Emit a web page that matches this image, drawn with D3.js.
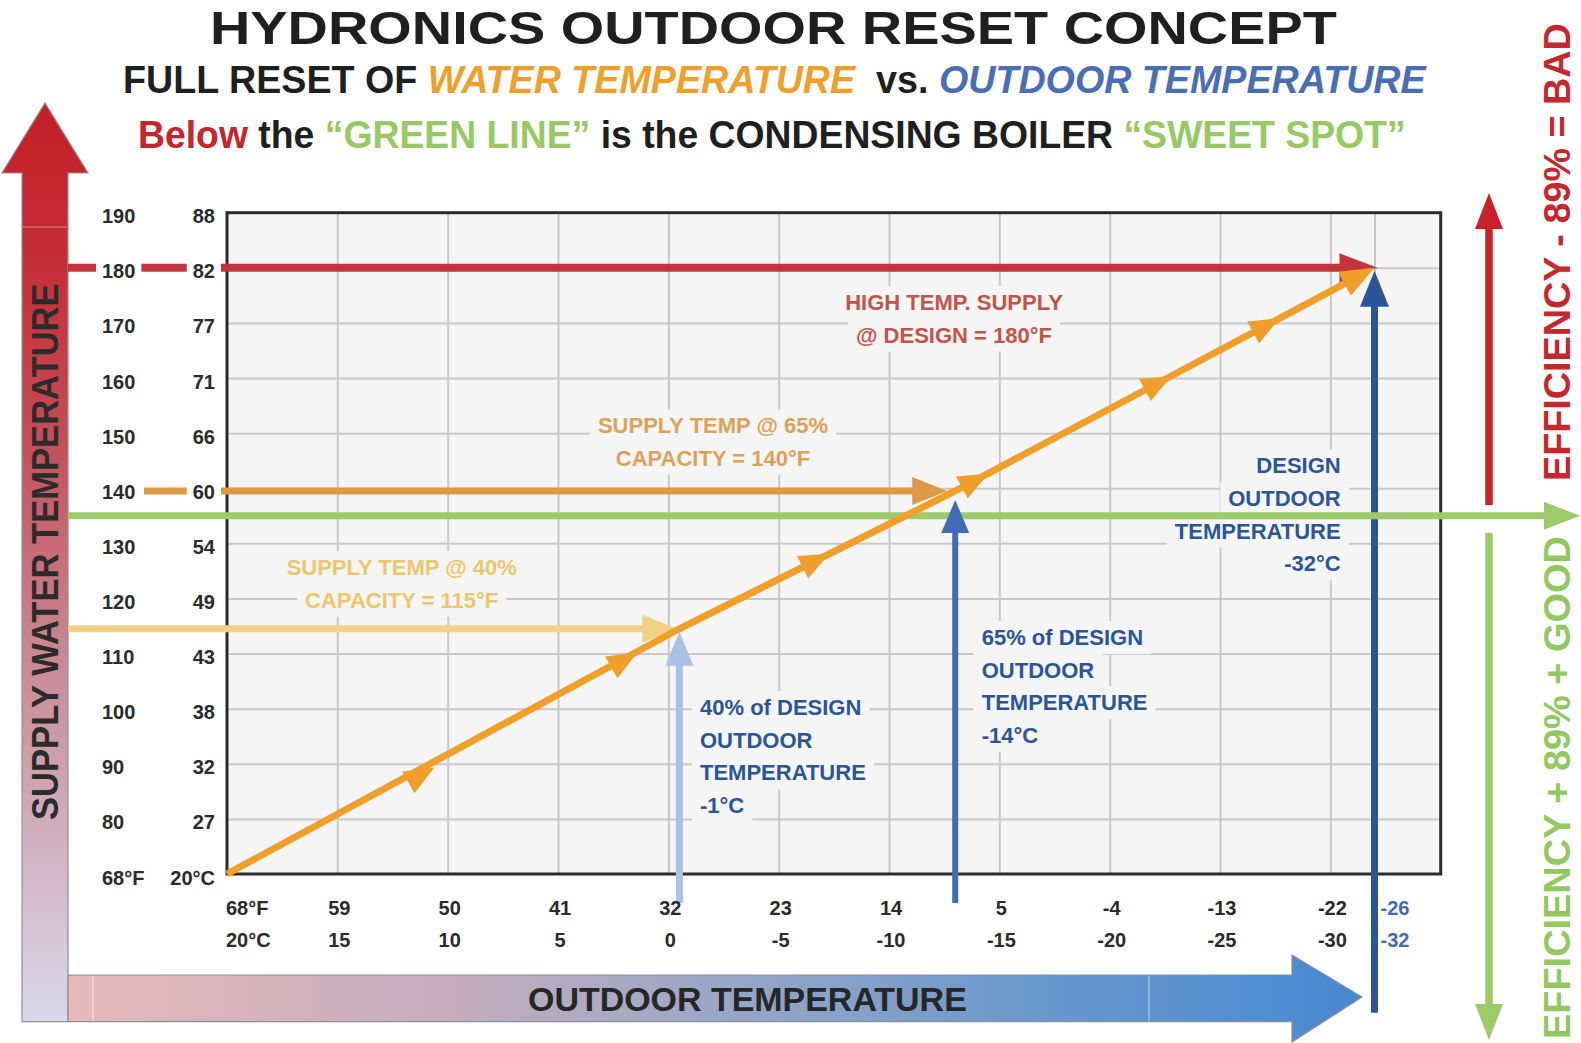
<!DOCTYPE html>
<html>
<head>
<meta charset="utf-8">
<script src="https://cdn.jsdelivr.net/npm/d3@7"></script>
<style>
html, body { margin: 0; padding: 0; background: #fff; }
svg { display: block; }
text { font-family: "Liberation Sans", Arial, Helvetica, sans-serif; font-weight: bold; white-space: pre; }
</style>
</head>
<body>
<svg id="chart" width="1581" height="1043"></svg>
<script>
// supply water temperature ticks: °F column and matching °C column
const supplyF = [68, 80, 90, 100, 110, 120, 130, 140, 150, 160, 170, 180, 190];
const supplyC = [20, 27, 32, 38, 43, 49, 54, 60, 66, 71, 77, 82, 88];
// outdoor temperature ticks
const outdoorC = [20, 15, 10, 5, 0, -5, -10, -15, -20, -25, -30];
const outdoorF = [68, 59, 50, 41, 32, 23, 14, 5, -4, -13, -22];
const designC = -32, designF = -26;

// reset curve: [outdoor °C, supply °F]
const resetCurve = [[20, 68], [-0.5, 114.5], [-13, 139.5], [-32, 180]];
// small flow arrows sitting on the reset curve (outdoor °C)
const curveMarks = [10.6, 1.4, -7.3, -14.5, -22.8, -27.7];

const highTempF = 180;
const cap65 = { outdoor: -13, supply: 139.5 };
const cap40 = { outdoor: -0.5, supply: 114.5 };
const condensingF = 135;

const svg = d3.select("#chart");
const plot = { left: 227, top: 212.7, right: 1440.7, bottom: 874 };
const barL = 22, barR = 68;            // left gradient arrow body
const fTextX = 102, cTextX = 215;      // y label columns

const x = d3.scaleLinear().domain([20, -35]).range([plot.left, plot.right]);
const yStep = (plot.bottom - plot.top) / (supplyF.length - 1);
const y = d3.scaleLinear().domain([68, 80, 190]).range([plot.bottom, plot.bottom - yStep, plot.top]);
const curveF = d3.scaleLinear().domain(resetCurve.map(d => d[0])).range(resetCurve.map(d => d[1]));

const C = {
    red: "#c4343b", orange: "#f09f2b", tan: "#dc9a47", yellow: "#f1d183",
    green: "#9dcb6b", lblue: "#a8c1e4", mblue: "#3f6cb4", dblue: "#2c5597",
    grid: "#c8c8c8", bg: "#f5f5f5", ink: "#2b2b2b"
};

// gradients
const defs = svg.append("defs");
const gv = defs.append("linearGradient").attr("id", "gv")
    .attr("gradientUnits", "userSpaceOnUse").attr("x1", 0).attr("y1", 103).attr("x2", 0).attr("y2", 1022);
[[0, "#c41f28"], [0.15, "#c42b33"], [0.35, "#c44a55"], [0.6, "#c98893"], [1, "#d9d9eb"]]
    .forEach(s => gv.append("stop").attr("offset", s[0]).attr("stop-color", s[1]));
const gh = defs.append("linearGradient").attr("id", "gh")
    .attr("gradientUnits", "userSpaceOnUse").attr("x1", 68).attr("y1", 0).attr("x2", 1362).attr("y2", 0);
[[0, "#e6b9bc"], [0.3, "#c4adbd"], [0.5, "#9ba7c6"], [0.75, "#6a98cc"], [1, "#4788d2"]]
    .forEach(s => gh.append("stop").attr("offset", s[0]).attr("stop-color", s[1]));

// big axis arrows
svg.append("path")
    .attr("d", `M${barL},1021.7L${barL},173L2,173L45,103L88,173L${barR},173L${barR},1021.7Z`)
    .attr("fill", "url(#gv)").attr("stroke", "#8f8f99").attr("stroke-width", 1.2);
svg.append("path")
    .attr("d", `M${barR},975L1292,975L1292,955L1362,997L1292,1042L1292,1021.7L${barR},1021.7Z`)
    .attr("fill", "url(#gh)").attr("stroke", "#8a8f99").attr("stroke-width", 1.2);
svg.append("line").attr("x1", barL + 1).attr("x2", barR - 1).attr("y1", 227).attr("y2", 227)
    .attr("stroke", "rgba(255,255,255,0.45)").attr("stroke-width", 1.2);
[93, 1149].forEach(v => svg.append("line").attr("x1", v).attr("x2", v).attr("y1", 976).attr("y2", 1021)
    .attr("stroke", "rgba(255,255,255,0.5)").attr("stroke-width", 1.2));

// plot background + grid
svg.append("rect").attr("x", plot.left).attr("y", plot.top)
    .attr("width", plot.right - plot.left).attr("height", plot.bottom - plot.top).attr("fill", C.bg);

const gridX = svg.append("g").attr("transform", `translate(0,${plot.bottom})`)
    .call(d3.axisBottom(x).tickValues(outdoorC.slice(1).concat([designC]))
        .tickSize(-(plot.bottom - plot.top)).tickFormat(""));
const gridY = svg.append("g").attr("transform", `translate(${plot.left},0)`)
    .call(d3.axisLeft(y).tickValues(supplyF.slice(1, -1))
        .tickSize(-(plot.right - plot.left)).tickFormat(""));
[gridX, gridY].forEach(g => {
    g.select(".domain").remove();
    g.selectAll("line").attr("stroke", C.grid).attr("stroke-width", 2);
});

const gKnock = svg.append("g");
svg.append("rect").attr("x", plot.left).attr("y", plot.top)
    .attr("width", plot.right - plot.left).attr("height", plot.bottom - plot.top)
    .attr("fill", "none").attr("stroke", C.ink).attr("stroke-width", 3);

const gLines = svg.append("g");

function arrow(g, x1, y1, x2, y2, o) {
    const dx = x2 - x1, dy = y2 - y1, L = Math.hypot(dx, dy), ux = dx / L, uy = dy / L;
    const head = o.head || 35, half = o.half || 14;
    const bx = x2 - ux * head, by = y2 - uy * head;
    g.append("line").attr("x1", x1).attr("y1", y1).attr("x2", bx + ux).attr("y2", by + uy)
        .attr("stroke", o.color).attr("stroke-width", o.width);
    g.append("path")
        .attr("d", `M${x2},${y2}L${bx - uy * half},${by + ux * half}L${bx + uy * half},${by - ux * half}Z`)
        .attr("fill", o.color);
}

const dX = x(designC), dY = y(highTempF);
// design outdoor temperature
arrow(gLines, dX, 1012.7, dX, dY + 3, { color: C.dblue, width: 7, head: 36, half: 14.5 });
// condensing "green line"
arrow(gLines, barR, y(condensingF), 1580, y(condensingF), { color: C.green, width: 7, head: 36, half: 14 });
// high temp supply
arrow(gLines, barR, dY, dX + 3, dY, { color: C.red, width: 8, head: 38, half: 14.5 });
// 65% capacity
arrow(gLines, 144, y(cap65.supply), x(cap65.outdoor) - 8, y(cap65.supply), { color: C.tan, width: 7, head: 35, half: 14 });
arrow(gLines, x(cap65.outdoor), 903, x(cap65.outdoor), y(cap65.supply) + 9, { color: C.mblue, width: 6, head: 33, half: 14 });
// 40% capacity
arrow(gLines, barR, y(cap40.supply), x(cap40.outdoor) - 2, y(cap40.supply), { color: C.yellow, width: 7, head: 35, half: 14 });
arrow(gLines, x(cap40.outdoor), 903, x(cap40.outdoor), y(cap40.supply) + 3, { color: C.lblue, width: 7, head: 34, half: 14 });

// reset curve
gLines.append("path").datum(resetCurve.slice(0, -1).concat([[designC + 1.2, curveF(designC + 1.2)]]))
    .attr("d", d3.line().x(d => x(d[0])).y(d => y(d[1])))
    .attr("fill", "none").attr("stroke", C.orange).attr("stroke-width", 7).attr("stroke-linecap", "butt");
function tri(c, len, half) {
    const tx = x(c), ty = y(curveF(c));
    const dx = x(c - 1) - x(c + 1), dy = y(curveF(c - 1)) - y(curveF(c + 1));
    const L = Math.hypot(dx, dy), ux = dx / L, uy = dy / L;
    const bx = tx - ux * len, by = ty - uy * len;
    return `M${tx},${ty}L${bx - uy * half},${by + ux * half}L${bx + uy * half},${by - ux * half}Z`;
}
gLines.selectAll(".mark").data(curveMarks).join("path").attr("class", "mark")
    .attr("d", c => tri(c, 30, 12.5)).attr("fill", C.orange);
gLines.append("path").attr("d", tri(designC, 34, 13.5)).attr("fill", C.orange);

// y tick labels (two columns) with white knockouts
const gYL = svg.append("g").attr("font-size", 20).attr("fill", C.ink);
supplyF.forEach((f, i) => {
    const yy = y(f) + 10.5;
    const tf = gYL.append("text").attr("x", fTextX).attr("y", yy).text(i === 0 ? "68°F" : f);
    const tc = gYL.append("text").attr("x", cTextX).attr("y", yy).attr("text-anchor", "end")
        .text(i === 0 ? supplyC[i] + "°C" : supplyC[i]);
    [tf, tc].forEach(t => {
        const b = t.node().getBBox();
        gYL.insert("rect", "text").attr("x", b.x - 6).attr("y", b.y + 1)
            .attr("width", b.width + 12).attr("height", b.height - 2).attr("fill", "#fff");
    });
});

// x tick labels
const gXL = svg.append("g").attr("font-size", 20).attr("fill", C.ink);
outdoorC.forEach((c, i) => {
    const first = i === 0;
    const xx = first ? x(c) - 1 : x(c) + 2;
    const anchor = first ? "start" : "middle";
    gXL.append("text").attr("x", xx).attr("y", 915).attr("text-anchor", anchor)
        .text(first ? outdoorF[i] + "°F" : outdoorF[i]);
    gXL.append("text").attr("x", xx).attr("y", 946.7).attr("text-anchor", anchor)
        .text(first ? c + "°C" : c);
});
gXL.append("text").attr("x", x(designC) + 6).attr("y", 915).attr("fill", C.mblue).text(designF);
gXL.append("text").attr("x", x(designC) + 6).attr("y", 946.7).attr("fill", C.mblue).text(designC);

// annotations inside the plot, each line knocks the grid out behind it
const notes = [
    { lines: ["HIGH TEMP. SUPPLY", "@ DESIGN = 180°F"], x: 954, y: 310, anchor: "middle", color: "#c5534a" },
    { lines: ["SUPPLY TEMP @ 65%", "CAPACITY = 140°F"], x: 713, y: 433.3, anchor: "middle", color: "#dca257" },
    { lines: ["SUPPLY TEMP @ 40%", "CAPACITY = 115°F"], x: 401.7, y: 575, anchor: "middle", color: "#ebc66b" },
    { lines: ["40% of DESIGN", "OUTDOOR", "TEMPERATURE", "-1°C"], x: 700, y: 715, anchor: "start", color: C.dblue },
    { lines: ["65% of DESIGN", "OUTDOOR", "TEMPERATURE", "-14°C"], x: 981.7, y: 645, anchor: "start", color: C.dblue },
    { lines: ["DESIGN", "OUTDOOR", "TEMPERATURE", "-32°C"], x: 1340.7, y: 473.3, anchor: "end", color: C.dblue }
];
const gNotes = svg.append("g").attr("font-size", 22);
notes.forEach(n => {
    n.lines.forEach((s, i) => {
        const t = gNotes.append("text").attr("x", n.x).attr("y", n.y + i * 32.6)
            .attr("text-anchor", n.anchor).attr("fill", n.color).text(s);
        const b = t.node().getBBox();
        gKnock.append("rect").attr("x", b.x - 8).attr("y", b.y - 4)
            .attr("width", b.width + 16).attr("height", b.height + 8).attr("fill", C.bg);
    });
});

// titles and rotated labels, stretched to the measured widths
function fitText(parts, size, x0, y0, width, rot) {
    const g = svg.append("g");
    const t = g.append("text").attr("font-size", size);
    parts.forEach(p => t.append("tspan").text(p.t).attr("fill", p.c || "#1f1f1f")
        .attr("font-style", p.i ? "italic" : null));
    const w = t.node().getComputedTextLength();
    g.attr("transform", `translate(${x0},${y0})` + (rot ? ` rotate(${rot})` : "") + ` scale(${width / w},1)`);
}
const orangeT = "#f09f2b", blueT = "#4a6db3", greenT = "#98c965", redT = "#c9232b";
fitText([{ t: "HYDRONICS OUTDOOR RESET CONCEPT" }], 47, 210, 43.5, 1127);
fitText([{ t: "FULL RESET OF " }, { t: "WATER TEMPERATURE", c: orangeT, i: 1 }, { t: "  vs. " },
    { t: "OUTDOOR TEMPERATURE", c: blueT, i: 1 }], 39, 123, 93, 1303);
fitText([{ t: "Below", c: redT }, { t: " the " }, { t: "\u201CGREEN LINE\u201D", c: greenT },
    { t: " is the CONDENSING BOILER " }, { t: "\u201CSWEET SPOT\u201D", c: greenT }], 39, 138, 148, 1268);
fitText([{ t: "SUPPLY WATER TEMPERATURE", c: "#2b2b2b" }], 37, 58.3, 820, 537, -90);
fitText([{ t: "OUTDOOR TEMPERATURE", c: "#262626" }], 33, 528, 1010.7, 439);
fitText([{ t: "EFFICIENCY - 89% = BAD", c: "#c6262e" }], 37.5, 1570, 481, 458, -90);
fitText([{ t: "EFFICIENCY + 89% + GOOD", c: "#93c760" }], 37.5, 1570, 1039, 503, -90);

// efficiency arrows on the right
arrow(svg, 1489, 505, 1489, 193, { color: "#c9202a", width: 7.5, head: 36, half: 14 });
arrow(svg, 1489, 533, 1489, 1040, { color: "#9ccb68", width: 7.5, head: 36, half: 14 });
</script>
</body>
</html>
